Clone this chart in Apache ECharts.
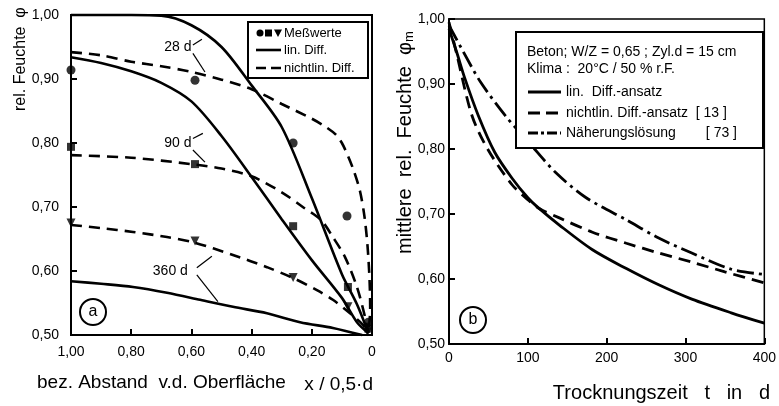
<!DOCTYPE html>
<html>
<head>
<meta charset="utf-8">
<script src="https://cdn.jsdelivr.net/npm/echarts@6/dist/echarts.min.js"></script>
<style>
  html, body { margin: 0; padding: 0; background: #fff; }
  #chart { width: 779px; height: 406px; }
</style>
</head>
<body>
<div id="chart"></div>
<script>
// ---- Panel (a): humidity profile over relative distance x / 0.5·d ----
// [relative distance, relative humidity]
const lin28 = [[1.0,1.0],[0.8,1.0],[0.7,0.999],[0.6,0.984],[0.5,0.95],[0.4,0.89],[0.3,0.825],[0.2,0.714],[0.1,0.595],[0.05,0.548],[0.012,0.503]];
const nl28 = [[1.0,0.942],[0.9,0.937],[0.8,0.927],[0.7,0.92],[0.6,0.911],[0.5,0.899],[0.4,0.884],[0.3,0.861],[0.2,0.838],[0.15,0.824],[0.12,0.813],[0.1,0.8],[0.08,0.78],[0.06,0.756],[0.04,0.725],[0.025,0.685],[0.015,0.64],[0.008,0.585],[0.006,0.54],[0.012,0.503]];
const lin90 = [[1.0,0.934],[0.9,0.925],[0.8,0.912],[0.7,0.894],[0.6,0.865],[0.5,0.811],[0.4,0.747],[0.3,0.681],[0.2,0.617],[0.1,0.558],[0.05,0.52],[0.012,0.503]];
const nl90 = [[1.0,0.781],[0.8,0.777],[0.6,0.767],[0.5,0.76],[0.4,0.748],[0.3,0.723],[0.23,0.70],[0.17,0.68],[0.13,0.653],[0.09,0.622],[0.05,0.575],[0.023,0.528],[0.012,0.503]];
const lin360 = [[1.0,0.584],[0.9,0.58],[0.794,0.575],[0.681,0.566],[0.571,0.555],[0.462,0.544],[0.349,0.534],[0.239,0.52],[0.13,0.511],[0.033,0.50]];
const nl360 = [[1.0,0.672],[0.9,0.667],[0.794,0.661],[0.681,0.653],[0.595,0.645],[0.462,0.625],[0.349,0.606],[0.262,0.589],[0.183,0.57],[0.13,0.555],[0.073,0.534],[0.03,0.516],[0.012,0.503]];
// measured values: circles 28 d, squares 90 d, triangles 360 d
const meas28 = [[1.0,0.914],[0.588,0.898],[0.262,0.80],[0.083,0.686],[0.012,0.52]];
const meas90 = [[1.0,0.794],[0.588,0.767],[0.262,0.67],[0.08,0.575],[0.012,0.51]];
const meas360 = [[1.0,0.675],[0.588,0.647],[0.262,0.59],[0.08,0.544],[0.015,0.505]];

// ---- Panel (b): mean humidity over drying time t in d ----
const meanLin = [[0,0.985],[10,0.948],[20,0.909],[37,0.852],[58,0.795],[80,0.755],[100,0.725],[112,0.711],[140,0.683],[182,0.645],[225,0.616],[266,0.591],[308,0.569],[358,0.548],[400,0.532]];
const meanNonlin = [[0,0.995],[10,0.945],[29,0.852],[49,0.80],[80,0.745],[100,0.722],[115,0.708],[140,0.694],[182,0.672],[225,0.655],[266,0.64],[308,0.626],[350,0.611],[400,0.594]];
const meanApprox = [[0,0.99],[18,0.95],[40,0.903],[73,0.849],[102,0.809],[136,0.763],[174,0.725],[225,0.691],[266,0.663],[308,0.64],[358,0.615],[400,0.607]];

// curve labels in panel (a): text position and two leader lines, in data units
const ageLabels = [
  { text: '28 d', at: [0.645, 0.95], lines: [[[0.595, 0.953], [0.565, 0.962]], [[0.595, 0.94], [0.555, 0.911]]] },
  { text: '90 d', at: [0.645, 0.80], lines: [[[0.595, 0.807], [0.562, 0.815]], [[0.595, 0.789], [0.555, 0.77]]] },
  { text: '360 d', at: [0.67, 0.60], lines: [[[0.582, 0.605], [0.532, 0.623]], [[0.582, 0.594], [0.512, 0.552]]] }
];

const SANS = '"Liberation Sans", Arial, sans-serif';
const comma2 = v => (v === 0 ? '0' : v.toFixed(2).replace('.', ','));

const chart = echarts.init(document.getElementById('chart'), null, { renderer: 'canvas' });

function lineSeries(data, dashed, xi, width) {
  return {
    type: 'line', xAxisIndex: xi, yAxisIndex: xi, data: data,
    showSymbol: false, smooth: 0.3, silent: true, clip: false,
    lineStyle: { color: '#000', width: width || 2.6, type: dashed || 'solid', cap: 'butt' }
  };
}
function markers(data, symbol, size, rot) {
  return {
    type: 'scatter', xAxisIndex: 0, yAxisIndex: 0, data: data,
    symbol: symbol, symbolSize: size, symbolRotate: rot || 0,
    itemStyle: { color: '#000' }, silent: true, z: 5
  };
}

const axisCommon = {
  axisLine: { show: true, onZero: false, lineStyle: { color: '#000', width: 2 } },
  axisTick: { show: true, inside: true, length: 6, lineStyle: { color: '#000', width: 2 } },
  splitLine: { show: false }
};
const tickFont = { color: '#000', fontSize: 14, fontFamily: SANS };

const option = {
  animation: false,
  backgroundColor: '#fff',
  grid: [
    { left: 71, top: 15, width: 301, height: 320, show: true, borderColor: '#000', borderWidth: 2, backgroundColor: 'transparent' },
    { left: 449, top: 19, width: 317, height: 325, show: true, borderColor: '#000', borderWidth: 1.5, backgroundColor: 'transparent' }
  ],
  xAxis: [
    Object.assign({ type: 'value', gridIndex: 0, min: 0, max: 1, interval: 0.2, inverse: true, position: 'bottom',
      axisLabel: Object.assign({ formatter: comma2, margin: 10 }, tickFont) }, axisCommon),
    Object.assign({ type: 'value', gridIndex: 1, min: 0, max: 400, interval: 100, position: 'bottom',
      axisLabel: Object.assign({ margin: 7 }, tickFont) }, axisCommon)
  ],
  yAxis: [
    Object.assign({ type: 'value', gridIndex: 0, min: 0.5, max: 1.0, interval: 0.1, position: 'left',
      axisLabel: Object.assign({ formatter: v => v.toFixed(2).replace('.', ','), margin: 12 }, tickFont) }, axisCommon),
    Object.assign({ type: 'value', gridIndex: 1, min: 0.5, max: 1.0, interval: 0.1, position: 'left',
      axisLabel: Object.assign({ formatter: v => v.toFixed(2).replace('.', ','), margin: 4 }, tickFont) }, axisCommon)
  ],
  series: [
    lineSeries(lin28, 'solid', 0),
    lineSeries(nl28, [11, 7], 0),
    lineSeries(lin90, 'solid', 0),
    lineSeries(nl90, [11, 7], 0),
    lineSeries(lin360, 'solid', 0),
    lineSeries(nl360, [11, 7], 0),
    markers(meas28, 'circle', 9),
    markers(meas90, 'rect', 8),
    markers(meas360, 'triangle', 9, 180),
    lineSeries(meanLin, 'solid', 1, 2.8),
    lineSeries(meanNonlin, [12, 7], 1, 2.8),
    lineSeries(meanApprox, [17, 5, 3, 5], 1, 2.8)
  ]
};
chart.setOption(option);

// ---- annotations, legends and axis titles ----
const g = [];
function txt(x, y, s, font, align, vAlign, rot) {
  g.push({ type: 'text', x: x, y: y, rotation: rot || 0, z: 20,
    style: { text: s, font: font, fill: '#000', align: align || 'left', textAlign: align || 'left',
      verticalAlign: vAlign || 'middle', textVerticalAlign: vAlign || 'middle' } });
}
function seg(x1, y1, x2, y2, w, dash) {
  g.push({ type: 'line', z: 20, shape: { x1: x1, y1: y1, x2: x2, y2: y2 },
    style: { stroke: '#000', lineWidth: w, lineDash: dash || null } });
}

// curve age labels with leader lines
ageLabels.forEach(a => {
  const p = chart.convertToPixel({ gridIndex: 0 }, a.at);
  txt(p[0], p[1], a.text, '14px ' + SANS, 'center');
  a.lines.forEach(l => {
    const p1 = chart.convertToPixel({ gridIndex: 0 }, l[0]);
    const p2 = chart.convertToPixel({ gridIndex: 0 }, l[1]);
    seg(p1[0], p1[1], p2[0], p2[1], 1.2);
  });
});

// legend of panel (a)
g.push({ type: 'rect', z: 18, shape: { x: 248, y: 22, width: 120, height: 56 }, style: { fill: '#fff', stroke: '#000', lineWidth: 2 } });
g.push({ type: 'circle', z: 20, shape: { cx: 260, cy: 33, r: 3.5 }, style: { fill: '#000' } });
g.push({ type: 'rect', z: 20, shape: { x: 265, y: 29.5, width: 7, height: 7 }, style: { fill: '#000' } });
g.push({ type: 'polygon', z: 20, shape: { points: [[274, 29.5], [282, 29.5], [278, 37]] }, style: { fill: '#000' } });
txt(284, 33, 'Meßwerte', '13px ' + SANS);
seg(256, 50, 281, 50, 2.6);
txt(284, 50, 'lin. Diff.', '13px ' + SANS);
seg(256, 68, 282, 68, 2.6, [10, 5]);
txt(284, 68, 'nichtlin. Diff.', '13px ' + SANS);

// legend of panel (b)
g.push({ type: 'rect', z: 18, shape: { x: 516, y: 32, width: 247, height: 116 }, style: { fill: '#fff', stroke: '#000', lineWidth: 2 } });
txt(527, 52, 'Beton; W/Z = 0,65 ; Zyl.d = 15 cm', '14px ' + SANS);
txt(527, 69, 'Klima :  20°C / 50 % r.F.', '14px ' + SANS);
seg(528, 92, 561, 92, 2.8);
txt(566, 92, 'lin.  Diff.-ansatz', '14px ' + SANS);
seg(528, 113, 561, 113, 2.8, [12, 6]);
txt(566, 113, 'nichtlin. Diff.-ansatz  [ 13 ]', '14px ' + SANS);
seg(528, 133, 561, 133, 2.8, [10, 3, 3, 3]);
txt(566, 133, 'Näherungslösung', '14px ' + SANS);
txt(737, 133, '[ 73 ]', '14px ' + SANS, 'right');

// panel markers (a) and (b)
g.push({ type: 'circle', z: 20, shape: { cx: 93, cy: 312, r: 13 }, style: { fill: 'none', stroke: '#000', lineWidth: 2 } });
txt(93, 312, 'a', '16px ' + SANS, 'center');
g.push({ type: 'circle', z: 20, shape: { cx: 473, cy: 320, r: 13 }, style: { fill: 'none', stroke: '#000', lineWidth: 2 } });
txt(473, 320, 'b', '16px ' + SANS, 'center');

// axis titles
txt(37, 383, 'bez. Abstand  v.d. Oberfläche', '19px ' + SANS);
txt(373, 385, 'x / 0,5·d', '19px ' + SANS, 'right');
txt(770, 393, 'Trocknungszeit   t   in   d', '20px ' + SANS, 'right');
txt(21, 111, 'rel. Feuchte  φ', '16px ' + SANS, 'left', 'middle', Math.PI / 2);
g.push({ type: 'text', x: 405, y: 254, rotation: Math.PI / 2, z: 20,
  style: { text: '{t|mittlere  rel.  Feuchte  φ}{s|m}', font: '20px ' + SANS, fill: '#000', align: 'left', textAlign: 'left', verticalAlign: 'middle', textVerticalAlign: 'middle',
    rich: { t: { font: '20px ' + SANS, fill: '#000' }, s: { font: '13px ' + SANS, fill: '#000', padding: [8, 0, 0, 0] } } } });

chart.setOption({ graphic: g });
</script>
</body>
</html>
